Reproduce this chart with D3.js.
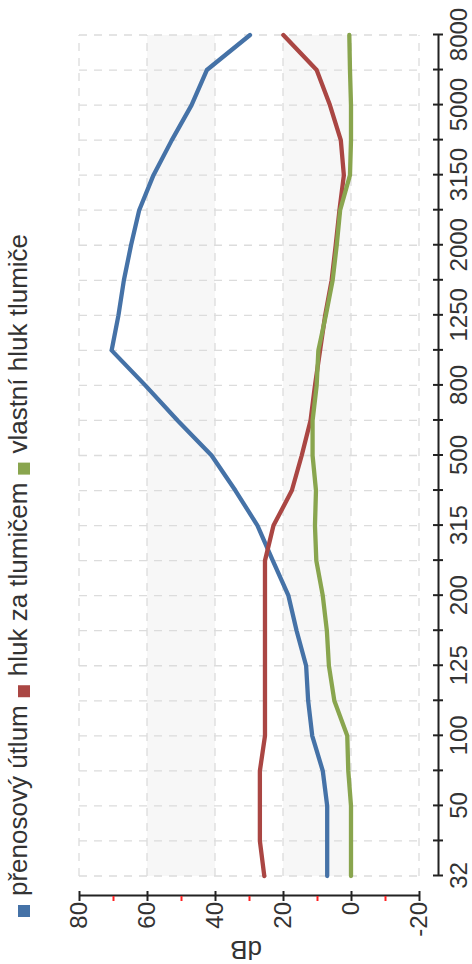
<!DOCTYPE html>
<html><head><meta charset="utf-8">
<script src="https://cdn.jsdelivr.net/npm/d3@7"></script>
<style>html,body{margin:0;padding:0;background:#fff;} svg{display:block;font-family:"Liberation Sans",Arial,sans-serif;}</style>
</head><body>
<svg id="c" width="472" height="964"></svg>
<script>
// ---- data ----
const categories = ["32","40","50","63","100","110","125","160","200","250","315","400","500","630","800","1000","1250","1600","2000","2500","3150","4000","5000","6300","8000"];
const tickLabels = ["32","50","100","125","200","315","500","800","1250","2000","3150","5000","8000"];
const seriesNames = ["přenosový útlum","hluk za tlumičem","vlastní hluk tlumiče"];
const seriesColors = ["#4572A7","#AA4643","#89A54E"];
const prenosovyUtlum = [7, 7, 7, 8.3, 11.4, 12.6, 13.2, 16, 18.4, 23, 27.5, 34, 41, 51, 60.5, 70.4, 68.4, 66.8, 64.7, 62.3, 58.1, 52.7, 46.9, 42.4, 29.7];
const hlukZaTlumicem = [25.5, 26.8, 26.8, 26.8, 25.3, 25.3, 25.3, 25.3, 25.3, 25.3, 22.8, 17.4, 14.5, 11.9, 10.6, 9.1, 7.6, 5.7, 4.5, 3.4, 2.1, 3.0, 6.2, 10.1, 19.9];
const vlastniHluk = [0, 0, 0, 0.8, 1.1, 4.9, 6.5, 7.1, 8.3, 10.2, 10.6, 10.3, 11.3, 11.3, 10.1, 9.6, 7.4, 5.4, 4.2, 3.2, 0.3, 0, 0, 0.3, 0.5];
const valueTicks = [80, 60, 40, 20, 0, -20];
const minorTicks = [70, 50, 30, 10, -10];
const bands = [[40, 60], [0, 20]];
const axisTitle = "dB";

// ---- layout (chart drawn unrotated, then turned 90° counter-clockwise) ----
const W = 964, H = 472;
const svg = d3.select("#c");
const g = svg.append("g").attr("transform", `translate(0,${W}) rotate(-90)`);

const x = d3.scalePoint().domain(categories).range([88, 929]);
const y = d3.scaleLinear().domain([-20, 80]).range([419, 79]);

// plot bands
g.append("g").selectAll("rect").data(bands).join("rect")
  .attr("x", x.range()[0]).attr("width", x.range()[1] - x.range()[0])
  .attr("y", d => y(d[1])).attr("height", d => y(d[0]) - y(d[1]))
  .attr("fill", "#f7f7f7");

// grid
const grid = g.append("g").attr("stroke", "#dcdcdc").attr("stroke-width", 1.3).attr("stroke-dasharray", "8,7").attr("fill", "none");
grid.selectAll("line.v").data(valueTicks).join("line").attr("class", "v")
  .attr("x1", x.range()[0]).attr("x2", x.range()[1])
  .attr("y1", d => y(d)).attr("y2", d => y(d));
grid.selectAll("line.c").data(categories).join("line").attr("class", "c")
  .attr("x1", d => x(d)).attr("x2", d => x(d))
  .attr("y1", y(80)).attr("y2", y(-20));

// series
const series = [prenosovyUtlum, hlukZaTlumicem, vlastniHluk];
const line = d3.line().x((d, i) => x(categories[i])).y(d => y(d));
g.append("g").selectAll("path").data(series).join("path")
  .attr("d", d => line(d))
  .attr("fill", "none")
  .attr("stroke", (d, i) => seriesColors[i])
  .attr("stroke-width", 4.3)
  .attr("stroke-linejoin", "round")
  .attr("stroke-linecap", "round");

// category axis
const xAxis = d3.axisBottom(x).tickSizeInner(5).tickSizeOuter(0).tickPadding(7)
  .tickFormat(d => tickLabels.includes(d) ? d : "");
const gx = g.append("g").attr("transform", "translate(0,438)").call(xAxis);
gx.select(".domain").attr("stroke", "#222").attr("stroke-width", 2);
gx.selectAll(".tick line").attr("y1", -5).attr("stroke", "#222").attr("stroke-width", 2);
gx.selectAll(".tick text").attr("font-size", 24).attr("fill", "#333").attr("font-family", "Liberation Sans, Arial, sans-serif");

// value axis
const yAxis = d3.axisLeft(y).tickValues(valueTicks).tickSizeInner(5).tickSizeOuter(0).tickPadding(1)
  .tickFormat(d => String(d));
const gy = g.append("g").attr("transform", "translate(68,0)").call(yAxis);
gy.select(".domain").attr("stroke", "#222").attr("stroke-width", 2);
gy.selectAll(".tick line").attr("x1", 5).attr("stroke", "#222").attr("stroke-width", 2);
gy.selectAll(".tick text").attr("font-size", 24).attr("fill", "#333").attr("font-family", "Liberation Sans, Arial, sans-serif");
const yMinor = d3.axisLeft(y).tickValues(minorTicks).tickSize(5).tickFormat("");
const gm = g.append("g").attr("transform", "translate(68,0)").call(yMinor);
gm.select(".domain").remove();
gm.selectAll(".tick line").attr("stroke", "#ff2020").attr("stroke-width", 2);

// axis title
g.append("text").attr("transform", `translate(23,${(y(80) + y(-20)) / 2 - 3}) rotate(-90)`)
  .attr("text-anchor", "middle").attr("font-size", 26).attr("fill", "#333").text(axisTitle);

// legend
const lg = g.append("g");
let off = 47;
seriesNames.forEach((name, i) => {
  lg.append("rect").attr("x", off).attr("y", 18).attr("width", 12).attr("height", 12).attr("fill", seriesColors[i]);
  const t = lg.append("text").attr("x", off + 21).attr("y", 27).attr("font-size", 26).attr("fill", "#333").text(name);
  off = off + 21 + t.node().getComputedTextLength() + 8;
});
</script>
</body></html>
